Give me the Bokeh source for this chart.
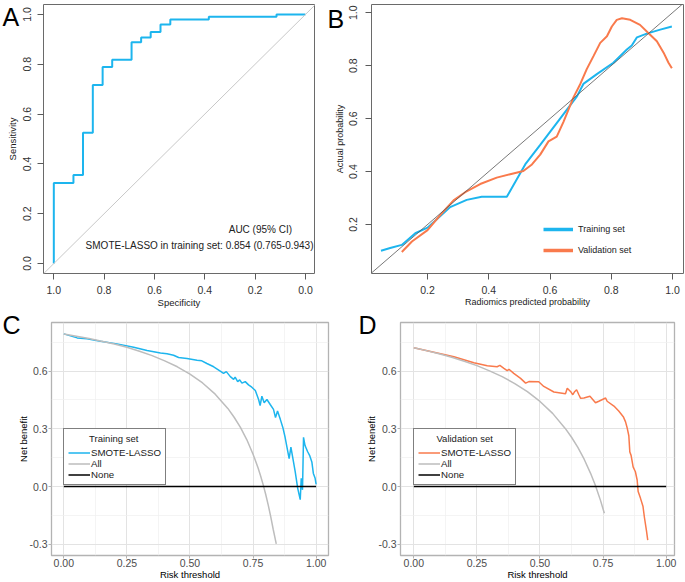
import math
from bokeh.plotting import figure
from bokeh.models import Range1d, FixedTicker, Label, Legend, LegendItem, Slope
from bokeh.layouts import column, row
from bokeh.embed import file_html
from bokeh.resources import INLINE

# ---------------- data ----------------
# Panel A: ROC curve (specificity, sensitivity)
roc_specificity = [1.0, 1.0, 0.922, 0.922, 0.884, 0.884, 0.845, 0.845, 0.806, 0.806,
                   0.768, 0.768, 0.691, 0.691, 0.653, 0.653, 0.615, 0.615, 0.576, 0.576,
                   0.537, 0.537, 0.384, 0.384, 0.115, 0.115, 0.0]
roc_sensitivity = [0.0, 0.323, 0.323, 0.355, 0.355, 0.525, 0.525, 0.717, 0.717, 0.789,
                   0.789, 0.818, 0.818, 0.888, 0.888, 0.908, 0.908, 0.930, 0.930, 0.960,
                   0.960, 0.980, 0.980, 0.991, 0.991, 1.0, 1.0]
roc_ticks = [0.0, 0.2, 0.4, 0.6, 0.8, 1.0]
roc_tick_labels = ["0.0", "0.2", "0.4", "0.6", "0.8", "1.0"]
auc_header = "AUC (95% CI)"
auc_line = "SMOTE-LASSO in training set: 0.854 (0.765-0.943)"

# Panel B: calibration curves
cal_train_x = [0.048, 0.078, 0.116, 0.160, 0.200, 0.274, 0.328, 0.377, 0.459, 0.519,
               0.568, 0.633, 0.688, 0.709, 0.753, 0.807, 0.851, 0.867, 0.884, 0.916,
               0.960, 0.998]
cal_train_y = [0.101, 0.111, 0.123, 0.167, 0.188, 0.266, 0.293, 0.305, 0.305, 0.427,
               0.501, 0.600, 0.684, 0.731, 0.768, 0.811, 0.861, 0.876, 0.907, 0.921,
               0.936, 0.948]
cal_valid_x = [0.116, 0.149, 0.200, 0.241, 0.285, 0.323, 0.372, 0.426, 0.470, 0.513,
               0.541, 0.568, 0.595, 0.622, 0.644, 0.677, 0.699, 0.720, 0.742, 0.764,
               0.786, 0.802, 0.818, 0.835, 0.862, 0.894, 0.927, 0.949, 0.971, 0.987,
               0.998]
cal_valid_y = [0.096, 0.136, 0.179, 0.235, 0.291, 0.322, 0.353, 0.377, 0.390, 0.402,
               0.427, 0.464, 0.514, 0.532, 0.588, 0.681, 0.731, 0.787, 0.836, 0.886,
               0.911, 0.948, 0.973, 0.979, 0.973, 0.954, 0.917, 0.892, 0.849, 0.811,
               0.790]
cal_ticks = [0.2, 0.4, 0.6, 0.8, 1.0]
cal_tick_labels = ["0.2", "0.4", "0.6", "0.8", "1.0"]
cal_series = ["Training set", "Validation set"]

# Panel C: decision curve, training set
dca_train_thr = [0.0, 0.053, 0.092, 0.145, 0.211, 0.277, 0.330, 0.383, 0.409, 0.435,
                 0.455, 0.488, 0.528, 0.547, 0.567, 0.594, 0.620, 0.633, 0.644, 0.660,
                 0.673, 0.679, 0.689, 0.697, 0.706, 0.719, 0.732, 0.745, 0.759, 0.772,
                 0.778, 0.785, 0.794, 0.805, 0.818, 0.831, 0.839, 0.847, 0.858, 0.868,
                 0.877, 0.887, 0.893, 0.900, 0.908, 0.917, 0.927, 0.937, 0.941, 0.946,
                 0.950, 0.956, 0.966, 0.974, 0.983, 0.989, 0.996, 1.0]
dca_train_nb = [0.793, 0.772, 0.767, 0.755, 0.741, 0.724, 0.707, 0.694, 0.690, 0.682,
                0.670, 0.665, 0.656, 0.653, 0.639, 0.622, 0.600, 0.588, 0.597, 0.571,
                0.557, 0.568, 0.545, 0.554, 0.537, 0.545, 0.528, 0.516, 0.499, 0.452,
                0.421, 0.469, 0.435, 0.452, 0.426, 0.401, 0.358, 0.392, 0.349, 0.307,
                0.256, 0.187, 0.145, 0.205, 0.145, 0.077, -0.009, -0.068, 0.043, -0.017,
                0.256, 0.213, 0.182, 0.162, 0.128, 0.068, 0.043, 0.012]
all_train_thr = [0.0, 0.05, 0.1, 0.15, 0.2, 0.25, 0.3, 0.35, 0.4, 0.45, 0.5, 0.55, 0.6,
                 0.65, 0.675, 0.7, 0.725, 0.75, 0.76, 0.77, 0.78, 0.79, 0.8, 0.81, 0.82,
                 0.83, 0.842]
all_train_nb = [0.792, 0.781, 0.769, 0.755, 0.740, 0.723, 0.703, 0.680, 0.653, 0.622,
                0.584, 0.538, 0.480, 0.406, 0.360, 0.307, 0.244, 0.168, 0.133, 0.096,
                0.055, 0.010, -0.040, -0.095, -0.156, -0.223, -0.298]

# Panel D: decision curve, validation set
dca_valid_thr = [0.0, 0.106, 0.159, 0.238, 0.291, 0.330, 0.341, 0.357, 0.370, 0.377,
                 0.396, 0.423, 0.443, 0.456, 0.495, 0.515, 0.555, 0.601, 0.608, 0.621,
                 0.630, 0.638, 0.645, 0.654, 0.661, 0.674, 0.698, 0.720, 0.733, 0.760,
                 0.766, 0.793, 0.812, 0.830, 0.839, 0.845, 0.852, 0.856, 0.861, 0.869,
                 0.878, 0.885, 0.889, 0.898, 0.908, 0.914, 0.922, 0.927]
dca_valid_nb = [0.721, 0.690, 0.674, 0.643, 0.627, 0.622, 0.629, 0.614, 0.602, 0.609,
                0.588, 0.562, 0.537, 0.545, 0.544, 0.520, 0.491, 0.482, 0.511, 0.494,
                0.477, 0.494, 0.503, 0.477, 0.458, 0.460, 0.469, 0.435, 0.443, 0.460,
                0.443, 0.418, 0.392, 0.363, 0.336, 0.307, 0.264, 0.179, 0.162, 0.102,
                0.077, 0.034, -0.026, -0.060, -0.102, -0.162, -0.230, -0.278]
all_valid_thr = [0.0, 0.05, 0.1, 0.15, 0.2, 0.25, 0.3, 0.35, 0.4, 0.45, 0.5, 0.55, 0.6,
                 0.625, 0.65, 0.675, 0.7, 0.72, 0.74, 0.755]
all_valid_nb = [0.721, 0.706, 0.690, 0.672, 0.651, 0.628, 0.601, 0.571, 0.535, 0.493,
                0.442, 0.380, 0.302, 0.256, 0.203, 0.142, 0.070, 0.004, -0.073, -0.139]

none_thr = [0.0, 1.0]
none_nb = [0.0, 0.0]

dca_x_ticks = [0.0, 0.25, 0.5, 0.75, 1.0]
dca_x_labels = ["0.00", "0.25", "0.50", "0.75", "1.00"]
dca_x_minor = [0.125, 0.375, 0.625, 0.875]
dca_y_ticks = [-0.3, 0.0, 0.3, 0.6]
dca_y_labels = ["-0.3", "0.0", "0.3", "0.6"]
dca_y_minor = [-0.15, 0.15, 0.45, 0.75]

series_names = ["SMOTE-LASSO", "All", "None"]
panel_letters = ["A", "B", "C", "D"]

# ---------------- styling ----------------
FONT = "Liberation Sans"
BLUE = "#1DB5EE"
ORANGE = "#F97A4C"
GRAY = "#BDBDBD"
TOP_H = 310
BOT_H = 582 - TOP_H


def make_fig(w, h, left, right, top, bottom, xr, yr):
    p = figure(width=w, height=h, x_range=Range1d(*xr), y_range=Range1d(*yr),
               output_backend="svg", toolbar_location=None,
               min_border_left=left, min_border_right=right,
               min_border_top=top, min_border_bottom=bottom)
    p.background_fill_color = "white"
    p.border_fill_color = "white"
    return p


def base_axis(ax, ticks, labels, tick_color, tick_len, lab_size, lab_color, standoff):
    ax.ticker = FixedTicker(ticks=ticks)
    ax.major_label_overrides = {t: l for t, l in zip(ticks, labels)}
    ax.axis_line_color = None
    ax.major_tick_line_color = tick_color
    ax.major_tick_out = tick_len
    ax.major_tick_in = 0
    ax.minor_tick_line_color = None
    ax.major_label_text_font = FONT
    ax.major_label_text_font_size = "%.1fpx" % lab_size
    ax.major_label_text_color = lab_color
    ax.major_label_standoff = standoff
    ax.axis_label_text_font = FONT
    ax.axis_label_text_font_size = "9.5px"
    ax.axis_label_text_font_style = "normal"
    ax.axis_label_text_color = "#1a1a1a"


def letter(p, txt, offset, standoff):
    # panel letter drawn as a left-aligned title pushed beside the frame
    p.title.text = txt
    p.title.align = "left"
    p.title.vertical_align = "bottom"
    p.title.offset = offset
    p.title.standoff = standoff
    p.title.text_font = FONT
    p.title.text_font_size = "25px"
    p.title.text_font_style = "normal"
    p.title.text_color = "black"
    p.title_location = "above"


# ---------------- Panel A ----------------
pA = make_fig(322, TOP_H, 43, 8, 4, TOP_H - 274, (1.041, -0.036), (-0.04, 1.04))
base_axis(pA.xaxis[0], roc_ticks, roc_tick_labels, "#5a5a5a", 6, 10.5, "#333333", 6)
base_axis(pA.yaxis[0], roc_ticks, roc_tick_labels, "#5a5a5a", 6, 10.5, "#333333", 6)
pA.yaxis[0].major_label_orientation = "vertical"
pA.xaxis[0].axis_label = "Specificity"
pA.xaxis[0].axis_label_standoff = 0
pA.yaxis[0].axis_label = "Sensitivity"
pA.yaxis[0].axis_label_standoff = 3
pA.grid.visible = False
pA.outline_line_color = "#6a6a6a"
pA.add_layout(Slope(gradient=-1, y_intercept=1, line_color="#C8C8C8", line_width=1))
pA.line(roc_specificity, roc_sensitivity, line_color=BLUE, line_width=2)
pA.add_layout(Label(x=0.179, y=0.137, text=auc_header, text_font=FONT,
                    text_font_size="10px", text_color="#222222",
                    text_align="center", text_baseline="middle"))
pA.add_layout(Label(x=-0.032, y=0.073, text=auc_line, text_font=FONT,
                    text_font_size="10px", text_color="#222222",
                    text_align="right", text_baseline="middle"))
letter(pA, panel_letters[0], -41, -53)

# ---------------- Panel B ----------------
pB = make_fig(363, TOP_H, 49, 2, 1, TOP_H - 274, (0.017, 1.036), (0.015, 1.031))
base_axis(pB.xaxis[0], cal_ticks, cal_tick_labels, "#5a5a5a", 6, 10.5, "#333333", 6)
base_axis(pB.yaxis[0], cal_ticks, cal_tick_labels, "#5a5a5a", 6, 10.5, "#333333", 8)
pB.yaxis[0].major_label_orientation = "vertical"
pB.xaxis[0].axis_label = "Radiomics predicted probability"
pB.xaxis[0].axis_label_standoff = 0
pB.yaxis[0].axis_label = "Actual probability"
pB.yaxis[0].axis_label_standoff = 2
pB.xaxis[0].axis_label_text_font_size = "9px"
pB.yaxis[0].axis_label_text_font_size = "9px"
pB.grid.visible = False
pB.outline_line_color = "#6a6a6a"
pB.add_layout(Slope(gradient=1, y_intercept=0, line_color="#555555", line_width=0.8))
pB.line(cal_train_x, cal_train_y, line_color=BLUE, line_width=2)
pB.line(cal_valid_x, cal_valid_y, line_color=ORANGE, line_width=2)
# one-point lines: draw nothing in the plot, only give thick legend keys
legB_blue = pB.line(cal_train_x[:1], cal_train_y[:1], line_color=BLUE, line_width=3.5)
legB_orange = pB.line(cal_valid_x[:1], cal_valid_y[:1], line_color=ORANGE, line_width=3.5)
legB = Legend(items=[LegendItem(label=cal_series[0], renderers=[legB_blue]),
                     LegendItem(label=cal_series[1], renderers=[legB_orange])],
              location=(172, 13), border_line_color=None,
              background_fill_alpha=0, glyph_width=30, glyph_height=20,
              label_height=20, spacing=1, padding=0, margin=0,
              label_standoff=5, label_text_font=FONT, label_text_font_size="9px",
              label_text_color="#222222")
pB.add_layout(legB)
letter(pB, panel_letters[1], -44, -57)


# ---------------- Panels C and D ----------------
def dca_panel(w, left, right, xr, model_thr, model_nb, all_thr, all_nb, color,
              title, title_pad, leg_x, lab_standoff, letter_txt, letter_offset):
    p = make_fig(w, BOT_H, left, right, 322 - TOP_H, 24, xr, (-0.358, 0.852))
    base_axis(p.xaxis[0], dca_x_ticks, dca_x_labels, "#B3B3B3", 3, 10.5, "#4D4D4D", 0)
    base_axis(p.yaxis[0], dca_y_ticks, dca_y_labels, "#B3B3B3", 3, 10.5, "#4D4D4D", 1)
    p.xaxis[0].axis_label = "Risk threshold"
    p.xaxis[0].axis_label_standoff = -1
    p.yaxis[0].axis_label = "Net benefit"
    p.yaxis[0].axis_label_standoff = lab_standoff
    p.xaxis[0].axis_label_text_color = "black"
    p.yaxis[0].axis_label_text_color = "black"
    p.xgrid.ticker = FixedTicker(ticks=dca_x_ticks, minor_ticks=dca_x_minor)
    p.ygrid.ticker = FixedTicker(ticks=dca_y_ticks, minor_ticks=dca_y_minor)
    p.grid.grid_line_color = "#E3E3E3"
    p.grid.grid_line_width = 1
    p.grid.minor_grid_line_color = "#EFEFEF"
    p.grid.minor_grid_line_width = 0.7
    p.outline_line_color = "#B3B3B3"
    p.outline_line_width = 1.3
    r_model = p.line(model_thr, model_nb, line_color=color, line_width=1.5)
    r_all = p.line(all_thr, all_nb, line_color=GRAY, line_width=1.5)
    r_none = p.line(none_thr, none_nb, line_color="black", line_width=1.5)
    leg = Legend(items=[LegendItem(label=series_names[0], renderers=[r_model]),
                        LegendItem(label=series_names[1], renderers=[r_all]),
                        LegendItem(label=series_names[2], renderers=[r_none])],
                 title="\u00a0" * title_pad + title,
                 location=(leg_x, 70),
                 border_line_color="black", border_line_width=1,
                 background_fill_color="white", background_fill_alpha=1,
                 padding=4, spacing=0, margin=0,
                 glyph_width=22, glyph_height=11, label_height=11,
                 label_standoff=1,
                 label_text_font=FONT, label_text_font_size="9.7px",
                 label_text_color="#1a1a1a",
                 title_text_font=FONT, title_text_font_size="9.5px",
                 title_text_font_style="normal", title_text_color="#1a1a1a",
                 title_standoff=3)
    p.add_layout(leg)
    letter(p, letter_txt, letter_offset, -33)
    return p


pC = dca_panel(332, 51, 4, (-0.0488, 1.049), dca_train_thr, dca_train_nb,
               all_train_thr, all_train_nb, BLUE, cal_series[0], 8, 12, -3,
               panel_letters[2], -49)
pD = dca_panel(353, 68, 11, (-0.0528, 1.033), dca_valid_thr, dca_valid_nb,
               all_valid_thr, all_valid_nb, ORANGE, cal_series[1], 7, 13, -2,
               panel_letters[3], -42)

layout = column(row(pA, pB), row(pC, pD))
open("out.html", "w").write(file_html(layout, INLINE))
